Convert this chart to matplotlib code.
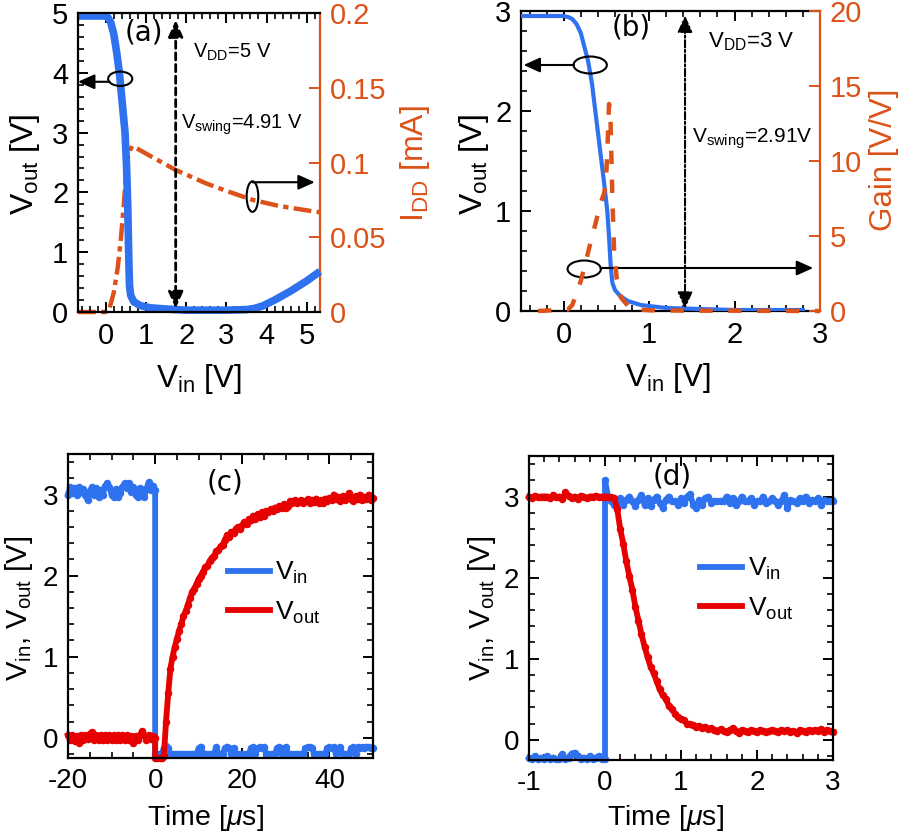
import numpy as np
import matplotlib
matplotlib.use('agg')
import matplotlib.pyplot as plt
from matplotlib.patches import Ellipse
from matplotlib.ticker import MultipleLocator

plt.rcParams['font.family'] = ['Liberation Sans', 'DejaVu Sans']
plt.rcParams['mathtext.fontset'] = 'custom'
plt.rcParams['mathtext.rm'] = 'Liberation Sans'
plt.rcParams['mathtext.it'] = 'Liberation Sans:italic'
plt.rcParams['mathtext.bf'] = 'Liberation Sans:bold'
plt.rcParams['mathtext.default'] = 'regular'
plt.rcParams['axes.unicode_minus'] = False

BLUE = '#2f72f0'
RED = '#e60000'
ORANGE = '#dc5218'
WIDTH, HEIGHT = 900, 835

# (a) transfer curve at VDD = 5 V
vin_a = [-0.69, 0.0, 0.05, 0.12, 0.2, 0.27, 0.34, 0.41, 0.48, 0.52, 0.55, 0.57, 0.59, 0.62, 0.7, 0.85, 1.1, 1.5,
         2.0, 3.0, 3.5, 3.7, 3.9, 4.2, 4.6, 5.0, 5.33]
vout_a = [4.95, 4.95, 4.93, 4.85, 4.65, 4.35, 4.0, 3.5, 3.0, 2.4, 1.7, 1.0, 0.45, 0.28, 0.17, 0.11, 0.07, 0.05,
          0.03, 0.03, 0.04, 0.06, 0.1, 0.2, 0.35, 0.52, 0.68]
vin_idd_a = [-0.69, 0.0, 0.1, 0.2, 0.3, 0.38, 0.45, 0.5, 0.55, 0.6, 0.66, 0.8, 1.2, 1.74, 2.5, 3.0, 3.65, 4.3, 5.0, 5.33]
idd_a = [0.0, 0.0, 0.003, 0.013, 0.03, 0.05, 0.072, 0.09, 0.103, 0.108, 0.111, 0.109, 0.103, 0.095, 0.086, 0.081,
         0.075, 0.071, 0.068, 0.0667]

# (b) transfer curve and gain at VDD = 3 V
vin_b = [-0.5, 0.0, 0.05, 0.1, 0.15, 0.2, 0.285, 0.33, 0.37, 0.42, 0.47, 0.51, 0.53, 0.55, 0.57, 0.6, 0.66, 0.75,
         0.9, 1.2, 1.6, 2.0, 2.8]
vout_b = [2.95, 2.95, 2.94, 2.92, 2.87, 2.78, 2.5, 2.28, 2.0, 1.65, 1.3, 1.0, 0.75, 0.45, 0.28, 0.21, 0.15, 0.1,
          0.06, 0.03, 0.02, 0.01, 0.01]
vin_gain_b = [-0.3, 0.05, 0.1, 0.14, 0.2, 0.25, 0.32, 0.38, 0.42, 0.47, 0.49, 0.51, 0.53, 0.545, 0.555, 0.57, 0.59,
              0.62, 0.67, 0.78, 1.0, 1.5, 2.0, 3.0]
gain_b = [0.0, 0.1, 0.4, 1.0, 2.0, 3.1, 4.7, 6.0, 7.0, 7.8, 8.3, 10.5, 13.8, 13.5, 11.0, 7.5, 4.0, 2.2, 0.9, 0.15,
          0.05, 0.02, 0.02, 0.0]

# (c) falling input, scope samples every 0.5 us
vin_c_high = [3.0, 3.09, 3.02, 3.08, 3.0, 3.09, 3.03, 3.07, 3.0, 2.93,
              3.04, 3.09, 3.0, 3.08, 2.97, 3.06, 3.0, 3.1, 3.14, 3.09,
              3.0, 2.97, 3.07, 2.97, 3.02, 3.09, 3.14, 3.08, 3.14, 3.03,
              3.09, 3.0, 2.97, 3.08, 3.0, 2.97, 3.07, 3.15, 3.05, 3.1, 3.05]
vin_c_low = [-0.2, -0.2, -0.2, -0.2, -0.13, -0.1, -0.13, -0.2, -0.2, -0.2,
             -0.2, -0.2, -0.2, -0.2, -0.2, -0.2, -0.2, -0.2, -0.2, -0.2,
             -0.13, -0.11, -0.2, -0.2, -0.2, -0.2, -0.2, -0.2, -0.12, -0.2,
             -0.2, -0.2, -0.13, -0.11, -0.13, -0.2, -0.13, -0.2, -0.2, -0.2,
             -0.2, -0.2, -0.2, -0.2, -0.13, -0.12, -0.2, -0.13, -0.12, -0.13,
             -0.12, -0.2, -0.2, -0.2, -0.2, -0.2, -0.13, -0.12, -0.2, -0.13,
             -0.12, -0.2, -0.2, -0.2, -0.2, -0.2, -0.2, -0.2, -0.2, -0.13,
             -0.12, -0.12, -0.13, -0.2, -0.2, -0.2, -0.2, -0.2, -0.2, -0.13,
             -0.12, -0.13, -0.12, -0.2, -0.13, -0.12, -0.2, -0.2, -0.2, -0.2,
             -0.13, -0.12, -0.2, -0.12, -0.13, -0.12, -0.13, -0.11, -0.12, -0.13, -0.13]
vout_c_pre = [0.03, -0.03, 0.03, -0.04, 0.02, -0.07, 0.03, -0.03, 0.03, -0.02,
              0.05, 0.07, -0.03, 0.03, -0.03, 0.03, -0.03, 0.03, -0.03, 0.03,
              -0.03, 0.03, -0.03, 0.03, -0.03, 0.03, -0.03, 0.03, -0.03, 0.02,
              -0.07, 0.02, -0.03, 0.03, 0.08, 0.03, -0.03, 0.03, -0.02, 0.02, 0.0]
vout_c_post = [-0.25, -0.25, -0.25, -0.25, -0.22, 0.2, 0.55, 0.85, 1.0, 1.12, 1.22, 1.32, 1.4, 1.5, 1.56, 1.64, 1.72,
               1.8, 1.84, 1.9, 1.96, 2.0, 2.05, 2.1, 2.12, 2.18, 2.22, 2.24, 2.3, 2.32, 2.36, 2.38, 2.44, 2.5, 2.48,
               2.54, 2.52, 2.58, 2.6, 2.58, 2.62, 2.66, 2.64, 2.7, 2.68, 2.74, 2.7, 2.76, 2.72, 2.78, 2.74, 2.8, 2.78,
               2.82, 2.8, 2.84, 2.82, 2.86, 2.84, 2.88, 2.84, 2.86, 2.92, 2.9, 2.93, 2.89, 2.91, 2.93, 2.9, 2.92,
               2.94, 2.9, 2.93, 2.91, 2.95, 2.9, 2.93, 2.89, 2.95, 2.92, 2.96, 2.93, 3.0, 2.94, 2.97, 2.92, 2.98,
               2.93, 2.96, 3.02, 2.95, 2.92, 2.98, 2.94, 3.0, 2.93, 2.97, 2.95, 3.0, 2.93, 2.96]

# (d) rising input, scope samples every 0.04 us
vin_d_low = [-0.22, -0.24, -0.2, -0.24, -0.22, -0.24, -0.2, -0.24, -0.22, -0.24,
             -0.24, -0.18, -0.24, -0.22, -0.17, -0.16, -0.2, -0.24, -0.22, -0.24,
             -0.2, -0.24, -0.22, -0.2, -0.24, -0.24]
vin_d_high = [3.2, 3.0, 2.95, 2.9, 2.92, 2.98, 2.9, 2.96, 3.0, 2.94,
              2.88, 2.96, 3.02, 2.9, 2.98, 2.88, 2.96, 3.0, 2.92, 2.86,
              2.96, 3.0, 2.94, 2.94, 2.9, 2.98, 2.92, 3.0, 3.03, 2.9, 2.86,
              2.96, 2.9, 2.98, 3.0, 2.92, 2.94, 2.94, 2.94, 2.94,
              3.0, 2.92, 2.98, 2.9, 2.94, 3.0, 2.94, 2.94, 2.98, 2.9,
              2.94, 2.94, 3.0, 2.92, 2.94, 2.98, 2.94, 2.9, 2.94, 3.02,
              2.86, 2.96, 2.94, 2.92, 2.98, 2.94, 3.0, 2.92, 2.96, 2.94,
              2.98, 2.9, 2.96, 2.94, 2.94, 2.95]
vout_d = [3.0, 2.98, 3.01, 2.99, 3.0, 3.0, 3.0, 2.98, 3.02, 2.99,
          3.0, 2.97, 3.05, 3.01, 2.98, 3.0, 2.97, 3.01, 3.0, 2.98,
          3.0, 3.0, 3.01, 2.99, 3.0, 3.0, 3.0, 2.99, 2.98, 2.85,
          2.6, 2.42, 2.2, 2.02, 1.85, 1.64, 1.47, 1.3, 1.15, 1.02,
          0.9, 0.82, 0.72, 0.62, 0.55, 0.5, 0.42, 0.38, 0.32, 0.28,
          0.26, 0.24, 0.2, 0.19, 0.18, 0.16, 0.17, 0.14, 0.16, 0.13,
          0.14, 0.12, 0.11, 0.13, 0.11, 0.1, 0.12, 0.14, 0.11, 0.08,
          0.12, 0.11, 0.1, 0.12, 0.11, 0.1, 0.12, 0.11, 0.1, 0.11,
          0.12, 0.11, 0.1, 0.12, 0.11, 0.12, 0.1, 0.11, 0.08, 0.12,
          0.11, 0.1, 0.12, 0.11, 0.12, 0.11, 0.13, 0.1, 0.12, 0.11, 0.1]


def px_axes(fig, left, top, right, bottom):
    """Axes placed by its pixel box in the picture"""
    return fig.add_axes([left / WIDTH, 1 - bottom / HEIGHT, (right - left) / WIDTH, (bottom - top) / HEIGHT])


def px_label(fig, x, y, text, **kwargs):
    """Text centred on a pixel position"""
    fig.text(x / WIDTH, 1 - y / HEIGHT, text, ha='center', va='center', **kwargs)


def style_axes(ax, x_minor, y_minor, size=21):
    ax.xaxis.set_minor_locator(MultipleLocator(x_minor))
    ax.yaxis.set_minor_locator(MultipleLocator(y_minor))
    ax.tick_params(which='major', direction='in', top=True, right=True, length=7, width=1.4, labelsize=size, pad=7)
    ax.tick_params(which='minor', direction='in', top=True, right=True, length=4, width=1.2)
    for spine in ax.spines.values():
        spine.set_linewidth(1.6)


def style_right(ax, color, ticks, labels, size=21):
    ax.set_yticks(ticks)
    ax.set_yticklabels(labels)
    ax.tick_params(axis='y', which='major', direction='in', length=8, width=1.4, colors=color, labelsize=size, pad=7)
    ax.spines['right'].set_color(color)
    ax.spines['right'].set_linewidth(1.6)
    ax.spines['left'].set_visible(False)
    ax.spines['top'].set_visible(False)
    ax.spines['bottom'].set_visible(False)


def arrow(ax, start, end, style='-', lw=1.5, heads='-|>'):
    ax.annotate('', xy=end, xytext=start, annotation_clip=False,
                arrowprops=dict(arrowstyle=heads + ',head_length=1.0,head_width=0.45', color='black', lw=lw,
                                linestyle=style, shrinkA=0, shrinkB=0))


def oval(ax, center, width, height):
    ax.add_patch(Ellipse(center, width, height, fill=False, edgecolor='black', lw=1.5, zorder=6))


def panel_tag(ax, x, y, text):
    ax.text(x, y, text, fontsize=20, ha='center', va='center', family='DejaVu Sans')


def scope_trace(ax, time, values, color, label):
    """Thick noisy trace, the legend entry is a plain line"""
    ax.plot(time, values, color=color, lw=4.2, marker='o', ms=5.4, mew=0, clip_on=False)
    ax.plot([], [], color=color, lw=4.2, label=label)


def scope_legend(ax, anchor):
    ax.legend(loc='upper left', bbox_to_anchor=anchor, frameon=False, fontsize=19, handlelength=1.6,
              handletextpad=0.2, labelspacing=0.5, borderpad=0, borderaxespad=0)


fig = plt.figure(figsize=(WIDTH / 100, HEIGHT / 100), dpi=100)

# Panel a
ax_a = px_axes(fig, 78, 13, 320, 312)
ax_a.plot(vin_a, vout_a, color=BLUE, lw=5.5, clip_on=False, solid_capstyle='butt')
ax_a.set_xlim(-0.69, 5.33)
ax_a.set_ylim(0, 5)
ax_a.set_xticks([0, 1, 2, 3, 4, 5])
style_axes(ax_a, 0.2, 0.2)
ax_a.spines['right'].set_visible(False)
ax_a.tick_params(which='both', right=False)
ax_a.set_zorder(2)
ax_a.patch.set_visible(False)
twin_a = ax_a.twinx()
twin_a.set_zorder(1)
twin_a.plot(vin_idd_a, idd_a, color=ORANGE, lw=3.2, linestyle=(0, (4, 1.2, 1.2, 1.2)), clip_on=False)
twin_a.set_ylim(0, 0.2)
style_right(twin_a, ORANGE, [0, 0.05, 0.1, 0.15, 0.2], ['0', '0.05', '0.1', '0.15', '0.2'])
arrow(ax_a, (1.74, 0.06), (1.74, 4.88), (0, (2.6, 1.6)), 2, '<|-|>')
arrow(ax_a, (0.1, 3.85), (-0.69, 3.85))
oval(ax_a, (0.36, 3.9), 0.6, 0.24)
arrow(ax_a, (3.65, 2.17), (5.2, 2.17))
oval(ax_a, (3.65, 1.93), 0.29, 0.51)
panel_tag(ax_a, 0.94, 4.67, '(a)')
ax_a.text(2.18, 4.17, 'V$_{DD}$=5 V', fontsize=14.5, va='bottom')
ax_a.text(1.88, 2.92, 'V$_{swing}$=4.91 V', fontsize=14.5, va='bottom')
px_label(fig, 25, 164, 'V$_{out}$ [V]', rotation=90, fontsize=23)
px_label(fig, 199, 379, 'V$_{in}$ [V]', fontsize=22.5)
px_label(fig, 415, 164, 'I$_{DD}$ [mA]', rotation=90, fontsize=23, color=ORANGE)

# Panel b
ax_b = px_axes(fig, 521, 11, 820, 311)
ax_b.plot(vin_b, vout_b, color=BLUE, lw=3, zorder=3)
ax_b.set_xlim(-0.5, 3)
ax_b.set_ylim(0, 3)
ax_b.set_xticks([0, 1, 2, 3])
style_axes(ax_b, 0.2, 0.2)
ax_b.spines['right'].set_visible(False)
ax_b.tick_params(which='both', right=False)
ax_b.patch.set_visible(False)
twin_b = ax_b.twinx()
twin_b.plot(vin_gain_b, gain_b, color=ORANGE, lw=3.2, linestyle=(0, (3, 3.5)), clip_on=False)
twin_b.set_ylim(0, 20)
style_right(twin_b, ORANGE, [0, 5, 10, 15, 20], ['0', '5', '10', '15', '20'])
arrow(twin_b, (1.42, 0.15), (1.42, 19.7), (0, (3.5, 1.2, 1, 1.2)), 1.5, '<|-|>')
arrow(ax_b, (0.12, 2.46), (-0.47, 2.46))
oval(ax_b, (0.31, 2.46), 0.39, 0.17)
arrow(ax_b, (0.43, 0.43), (2.92, 0.43))
oval(ax_b, (0.24, 0.42), 0.39, 0.17)
ax_b.text(1.69, 2.58, 'V$_{DD}$=3 V', fontsize=16, va='bottom')
ax_b.text(1.5, 1.6, 'V$_{swing}$=2.91V', fontsize=15, va='bottom')
panel_tag(ax_b, 0.79, 2.84, '(b)')
px_label(fig, 474, 164, 'V$_{out}$ [V]', rotation=90, fontsize=23)
px_label(fig, 668, 378, 'V$_{in}$ [V]', fontsize=22.5)
px_label(fig, 884, 160, 'Gain [V/V]', rotation=90, fontsize=22.5, color=ORANGE)

# Panel c
ax_c = px_axes(fig, 68, 454, 373, 758)
time_c_pre = np.arange(len(vin_c_high)) * 0.5 - 20
time_c_post = np.arange(len(vin_c_low)) * 0.5
time_c = np.concatenate([time_c_pre, time_c_post])
scope_trace(ax_c, time_c, vin_c_high + vin_c_low, BLUE, 'V$_{in}$')
scope_trace(ax_c, time_c, vout_c_pre + vout_c_post, RED, 'V$_{out}$')
ax_c.set_xlim(-20, 50)
ax_c.set_ylim(-0.25, 3.5)
ax_c.set_xticks([-20, 0, 20, 40])
ax_c.set_yticks([0, 1, 2, 3])
style_axes(ax_c, 5, 0.2, size=20)
scope_legend(ax_c, (0.523, 0.651))
panel_tag(ax_c, 16, 3.15, '(c)')
px_label(fig, 19, 608, 'V$_{in}$, V$_{out}$ [V]', rotation=90, fontsize=21)
px_label(fig, 205, 818, r'Time [$\mathit{\mu}$s]', fontsize=20.5)

# Panel d
ax_d = px_axes(fig, 529, 456, 833, 760)
time_d_low = np.arange(len(vin_d_low)) * 0.04 - 1
time_d_high = np.arange(len(vin_d_high)) * 0.04
time_d_out = np.arange(len(vout_d)) * 0.04 - 1
scope_trace(ax_d, np.concatenate([time_d_low, time_d_high]), vin_d_low + vin_d_high, BLUE, 'V$_{in}$')
scope_trace(ax_d, time_d_out, vout_d, RED, 'V$_{out}$')
ax_d.set_xlim(-1, 3)
ax_d.set_ylim(-0.25, 3.5)
ax_d.set_xticks([-1, 0, 1, 2, 3])
ax_d.set_yticks([0, 1, 2, 3])
style_axes(ax_d, 0.2, 0.2, size=20)
scope_legend(ax_d, (0.563, 0.671))
panel_tag(ax_d, 0.88, 3.25, '(d)')
px_label(fig, 482, 608, 'V$_{in}$, V$_{out}$ [V]', rotation=90, fontsize=21)
px_label(fig, 665, 818, r'Time [$\mathit{\mu}$s]', fontsize=20.5)

plt.savefig('out.png', dpi=100)
plt.close()
